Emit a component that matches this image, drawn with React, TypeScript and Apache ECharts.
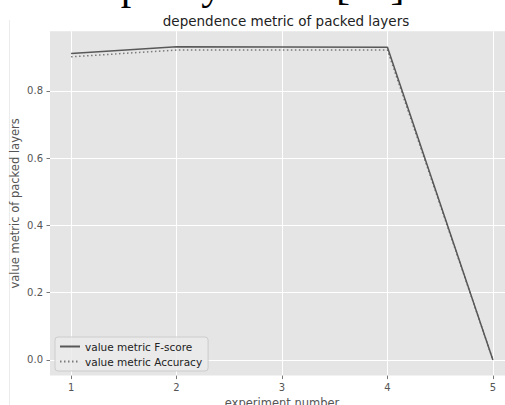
import React, { useEffect, useRef } from "react";
import * as echarts from "echarts";

const experiments = [1, 2, 3, 4, 5];
const fScore = [0.911, 0.931, 0.93, 0.929, 0.0];
const accuracy = [0.901, 0.921, 0.921, 0.921, 0.0];
const yTicks = [0, 0.2, 0.4, 0.6, 0.8];
const seriesNames = ["value metric F-score", "value metric Accuracy"];
const titleText = "dependence metric of packed layers";
const xName = "experiment number";
const yName = "value metric of packed layers";
const pageText = "ошло переобучение [11].";

export default function App() {
  const ref = useRef<HTMLDivElement>(null);
  useEffect(() => {
    if (!ref.current) return;
    const chart = echarts.init(ref.current, undefined, { renderer: "svg" });
    const font = "DejaVu Sans";
    chart.setOption({
      animation: false,
      backgroundColor: "#ffffff",
      title: {
        text: titleText,
        left: 281,
        top: 9,
        textAlign: "center",
        textStyle: { fontFamily: font, fontSize: 13.5, fontWeight: "normal", color: "#222" },
      },
      graphic: [
        {
          type: "text",
          x: 415,
          y: -15,
          style: {
            text: pageText,
            fontFamily: "Liberation Serif",
            fontSize: 42,
            fill: "#000",
            textAlign: "right",
            textVerticalAlign: "middle",
          },
        },
        {
          type: "line",
          shape: { x1: 9.5, y1: 20, x2: 9.5, y2: 405 },
          style: { stroke: "#ececec", lineWidth: 1 },
        },
      ],
      grid: {
        left: 50,
        right: 16,
        top: 31.2,
        bottom: 29.4,
        show: true,
        backgroundColor: "#e5e5e5",
        borderWidth: 0,
        containLabel: false,
        outerBoundsMode: "none",
      },
      xAxis: {
        type: "value",
        min: 0.8,
        max: 5.2,
        name: xName,
        nameLocation: "middle",
        nameGap: 21.5,
        nameMoveOverlap: false,
        nameTextStyle: { fontFamily: font, fontSize: 11.5, color: "#555", verticalAlign: "top" },
        axisLine: { show: false, onZero: false },
        axisTick: {
          show: true,
          customValues: experiments,
          length: 3.5,
          lineStyle: { color: "#777", width: 1 },
        },
        axisLabel: {
          customValues: experiments,
          margin: 7,
          fontFamily: font,
          fontSize: 10,
          color: "#555",
        },
        splitLine: { show: true, lineStyle: { color: "#ffffff", width: 1 } },
      },
      yAxis: {
        type: "value",
        min: -0.0465,
        max: 0.977,
        name: yName,
        nameLocation: "middle",
        nameGap: 29,
        nameMoveOverlap: false,
        nameTextStyle: { fontFamily: font, fontSize: 11.5, color: "#555" },
        axisLine: { show: false, onZero: false },
        axisTick: {
          show: true,
          customValues: yTicks,
          length: 3.5,
          lineStyle: { color: "#777", width: 1 },
        },
        axisLabel: {
          customValues: yTicks,
          margin: 7,
          fontFamily: font,
          fontSize: 10,
          color: "#555",
          formatter: (v: number) => v.toFixed(1),
        },
        splitLine: { show: true, lineStyle: { color: "#ffffff", width: 1 } },
      },
      legend: {
        left: 55,
        top: 337,
        orient: "vertical",
        backgroundColor: "rgba(235,235,235,0.85)",
        borderColor: "#cccccc",
        borderWidth: 1,
        borderRadius: 3,
        padding: [4, 6, 4, 4],
        itemGap: 4,
        itemWidth: 20,
        itemHeight: 10,
        itemStyle: { opacity: 0 },
        textStyle: { fontFamily: font, fontSize: 10.5, color: "#222" },
        data: seriesNames,
      },
      series: [
        {
          name: seriesNames[0],
          type: "line",
          symbol: "none",
          data: experiments.map((x, i) => [x, fScore[i]]),
          lineStyle: { color: "#585858", width: 1.5 },
          itemStyle: { color: "#585858" },
          z: 3,
        },
        {
          name: seriesNames[1],
          type: "line",
          symbol: "none",
          data: experiments.map((x, i) => [x, accuracy[i]]),
          lineStyle: { color: "#7a7a7a", width: 1.5, type: [1.5, 2.5] },
          itemStyle: { color: "#7a7a7a" },
          z: 2,
        },
      ],
    });
    return () => chart.dispose();
  }, []);
  return (
    <div style={{ position: "fixed", left: 0, top: 0, width: 505, height: 405, overflow: "hidden" }}>
      <div ref={ref} style={{ width: 530, height: 405 }} />
    </div>
  );
}
